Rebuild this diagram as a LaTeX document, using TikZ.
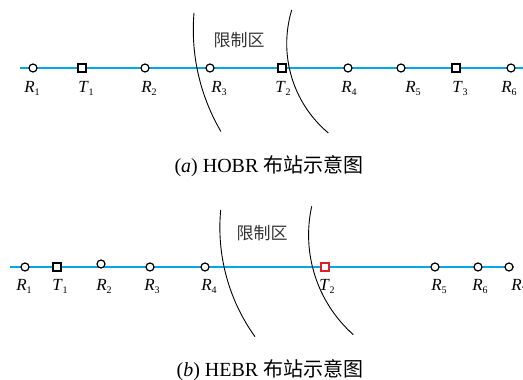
\documentclass[tikz,border=0pt]{standalone}
\usepackage{fontspec}
\setmainfont{Liberation Serif}
\newfontfamily\cjk{Noto Sans CJK SC}
\definecolor{railblue}{RGB}{0,168,232}
\definecolor{hotred}{RGB}{228,30,36}
\newcommand{\stlab}[2]{\textit{#1}\raisebox{-3.5pt}{\fontsize{10}{10}\selectfont #2}}
\tikzset{
  rx/.style={circle, draw, line width=1.2pt, fill=white, minimum size=8pt, inner sep=0pt},
  tx/.style={rectangle, draw, line width=1.2pt, fill=white, minimum size=8pt, inner sep=0pt},
  lab/.style={anchor=base, inner sep=0pt, font=\fontsize{17}{17}\selectfont},
  rail/.style={railblue, line width=1.4pt},
  zone/.style={line width=0.9pt},
  zonetxt/.style={inner sep=0pt, font=\cjk\fontsize{17}{17}\selectfont, text=black!80},
  capt/.style={inner sep=0pt, font=\fontsize{20}{20}\selectfont}
}

\begin{document}
\begin{tikzpicture}[x=1pt, y=-1pt]
    \useasboundingbox (0,0) rectangle (523,380);

    % HOBR (a)
    % Line
    \coordinate (aL) at (20,68);
    \coordinate (aR) at (523,68);
    \draw[rail] (aL) -- (aR);

    % Zone
    \draw[zone] (194,13) arc[start angle=184.8, end angle=149.6, radius=201];
    \draw[zone] (291.7,10) arc[start angle=196.8, end angle=130, radius=116.6];
    \node[zonetxt] (aZone) at (239,40) {限制区};

    % Vertices
    \node[rx] (aR1) at (33,68) {};
    \node[tx] (aT1) at (82,68) {};
    \node[rx] (aR2) at (145,68) {};
    \node[rx] (aR3) at (210,68) {};
    \node[tx] (aT2) at (282,68) {};
    \node[rx] (aR4) at (348,68) {};
    \node[rx] (aR5) at (401,68) {};
    \node[tx] (aT3) at (456,68) {};
    \node[rx] (aR6) at (511,68) {};

    % Labels
    \node[lab] (laR1) at (32,92) {\stlab{R}{1}};
    \node[lab] (laT1) at (86,92) {\stlab{T}{1}};
    \node[lab] (laR2) at (149,92) {\stlab{R}{2}};
    \node[lab] (laR3) at (219,92) {\stlab{R}{3}};
    \node[lab] (laT2) at (283,92) {\stlab{T}{2}};
    \node[lab] (laR4) at (349,92) {\stlab{R}{4}};
    \node[lab] (laR5) at (413,92) {\stlab{R}{5}};
    \node[lab] (laT3) at (460,92) {\stlab{T}{3}};
    \node[lab] (laR6) at (509,92) {\stlab{R}{6}};

    \node[capt] (aCap) at (269,166) {(\textit{a}) HOBR {\cjk 布站示意图}};

    % HEBR (b)
    % Line
    \coordinate (bL) at (10,267);
    \coordinate (bR) at (514,267);
    \draw[rail] (bL) -- (bR);

    % Zone
    \draw[zone] (220.7,210) arc[start angle=185.4, end angle=144.3, radius=187];
    \draw[zone] (311.7,206.3) arc[start angle=192.4, end angle=131.7, radius=133.5];
    \node[zonetxt] (bZone) at (262,233) {限制区};

    % Vertices
    \node[rx] (bR1) at (25,267) {};
    \node[tx] (bT1) at (57,267) {};
    \node[rx] (bR2) at (101,264) {};
    \node[rx] (bR3) at (150,267) {};
    \node[rx] (bR4) at (205,267) {};
    \node[tx, draw=hotred] (bT2) at (325,267) {};
    \node[rx] (bR5) at (435,267) {};
    \node[rx] (bR6) at (478,267) {};
    \node[rx] (bR7) at (509,267) {};

    % Labels
    \node[lab] (lbR1) at (24,290) {\stlab{R}{1}};
    \node[lab] (lbT1) at (60,290) {\stlab{T}{1}};
    \node[lab] (lbR2) at (104,290) {\stlab{R}{2}};
    \node[lab] (lbR3) at (152,290) {\stlab{R}{3}};
    \node[lab] (lbR4) at (209,290) {\stlab{R}{4}};
    \node[lab] (lbT2) at (327,290) {\stlab{T}{2}};
    \node[lab] (lbR5) at (439,290) {\stlab{R}{5}};
    \node[lab] (lbR6) at (480,290) {\stlab{R}{6}};
    \node[lab] (lbR7) at (519,290) {\stlab{R}{7}};

    \node[capt] (bCap) at (270,370) {(\textit{b}) HEBR {\cjk 布站示意图}};
\end{tikzpicture}
\end{document}
